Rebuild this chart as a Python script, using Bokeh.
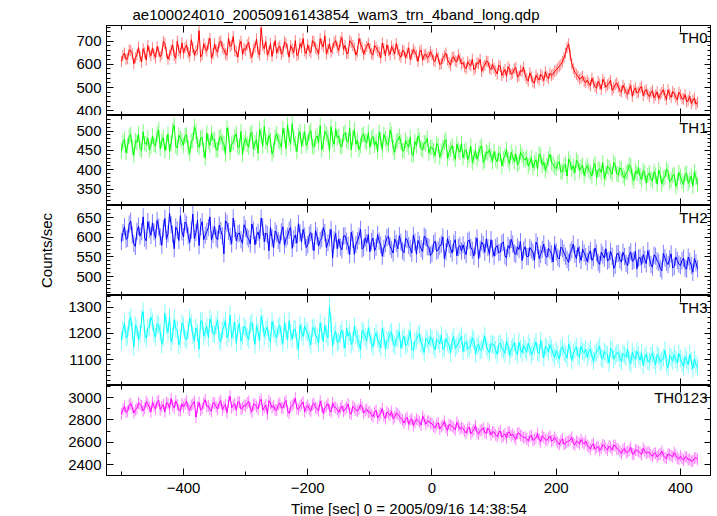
import numpy as np
from bokeh.plotting import figure
from bokeh.layouts import column
from bokeh.models import Range1d, LinearAxis, Label, SingleIntervalTicker, CustomJSTickFormatter
from bokeh.embed import file_html
from bokeh.resources import INLINE

# ---------------- data (rates, counts/sec) ----------------
# "a" samples at -500, -495, ... ; "b" samples half a step later (-497.5, -492.5, ...)
time_start = -500
time_step = 5

th0_a = [612, 648, 625, 659, 603, 641, 634, 667, 618, 652,
         671, 629, 655, 644, 690, 622, 661, 638, 700, 647,
         648, 683, 635, 672, 658, 745, 641, 669, 690, 627,
         688, 652, 701, 664, 639, 676, 720, 655, 683, 642,
         661, 695, 630, 674, 652, 758, 667, 640, 689, 671,
         648, 679, 655, 690, 631, 666, 702, 644, 672, 658,
         684, 650, 697, 662, 710, 675, 645, 689, 668, 702,
         660, 715, 681, 648, 694, 670, 656, 688, 642, 677,
         668, 640, 673, 651, 692, 636, 659, 678, 645, 662,
         630, 657, 648, 621, 665, 639, 652, 618, 644, 633,
         641, 612, 628, 603, 637, 619, 596, 632, 610, 624,
         608, 581, 599, 622, 585, 603, 570, 596, 612, 578,
         583, 559, 591, 566, 548, 579, 562, 587, 551, 569,
         552, 528, 546, 519, 541, 557, 530, 548, 562, 558,
         575, 592, 611, 648, 688, 603, 566, 548, 541, 528,
         532, 508, 521, 497, 515, 536, 502, 519, 488, 512,
         503, 482, 496, 471, 509, 488, 477, 498, 465, 491,
         461, 487, 468, 452, 479, 466, 490, 458, 474, 447,
         469, 451, 438, 462, 445, 428]
th0_b = [639, 621, 662, 645, 628, 673, 610, 649, 681, 637,
         644, 676, 633, 698, 651, 640, 684, 626, 659, 692,
         671, 650, 706, 639, 664, 632, 688, 657, 712, 645,
         661, 694, 673, 645, 712, 683, 658, 631, 699, 668,
         684, 647, 665, 709, 640, 681, 698, 656, 634, 702,
         671, 643, 697, 665, 680, 650, 638, 689, 711, 646,
         659, 701, 671, 644, 688, 723, 664, 652, 695, 673,
         698, 664, 647, 702, 681, 640, 711, 674, 663, 691,
         647, 681, 659, 628, 668, 684, 642, 662, 690, 641,
         661, 627, 671, 642, 653, 612, 662, 640, 628, 655,
         618, 646, 599, 625, 648, 607, 629, 615, 640, 601,
         589, 611, 594, 576, 607, 621, 588, 614, 584, 599,
         571, 596, 552, 578, 590, 557, 581, 545, 574, 588,
         539, 563, 525, 554, 532, 549, 568, 539, 552, 570,
         584, 600, 628, 672, 640, 582, 557, 536, 549, 521,
         519, 540, 505, 527, 492, 522, 511, 531, 499, 520,
         487, 510, 479, 494, 462, 499, 481, 505, 484, 472,
         478, 455, 482, 470, 491, 449, 471, 483, 459, 480,
         452, 470, 446, 431, 455, 437]

th1_a = [448, 479, 462, 491, 437, 470, 455, 498, 466, 452,
         487, 461, 503, 474, 449, 492, 468, 515, 456, 481,
         463, 490, 442, 476, 499, 458, 483, 431, 472, 494,
         478, 452, 486, 467, 508, 445, 471, 493, 460, 439,
         481, 458, 497, 469, 443, 488, 512, 463, 476, 451,
         493, 470, 506, 455, 482, 519, 467, 489, 461, 498,
         472, 501, 458, 487, 514, 466, 492, 448, 479, 505,
         488, 459, 496, 471, 451, 503, 477, 463, 492, 469,
         458, 486, 473, 497, 452, 480, 464, 491, 445, 476,
         471, 449, 466, 484, 438, 462, 477, 451, 469, 443,
         458, 436, 462, 447, 471, 429, 453, 441, 466, 445,
         431, 452, 437, 418, 449, 441, 462, 425, 443, 436,
         447, 421, 439, 428, 452, 416, 434, 441, 419, 437,
         425, 409, 431, 418, 402, 436, 421, 411, 440, 415,
         403, 421, 396, 414, 428, 401, 392, 419, 407, 385,
         411, 394, 408, 379, 402, 418, 391, 405, 388, 413,
         387, 401, 378, 396, 409, 372, 390, 383, 398, 366,
         392, 371, 386, 399, 364, 381, 395, 374, 388, 369,
         382, 361, 391, 374, 358, 380]
th1_b = [471, 444, 486, 459, 475, 493, 450, 468, 482, 461,
         466, 492, 455, 483, 470, 447, 501, 462, 489, 474,
         488, 457, 474, 511, 465, 482, 449, 495, 463, 477,
         451, 483, 472, 440, 491, 466, 485, 457, 499, 470,
         466, 492, 453, 478, 504, 461, 473, 489, 441, 484,
         475, 458, 489, 516, 468, 481, 447, 498, 479, 463,
         495, 462, 481, 470, 452, 499, 484, 511, 466, 483,
         462, 491, 476, 508, 483, 466, 452, 489, 474, 497,
         481, 463, 447, 479, 491, 468, 502, 457, 473, 486,
         449, 476, 458, 440, 473, 488, 455, 470, 481, 457,
         449, 468, 432, 457, 478, 444, 462, 427, 451, 468,
         447, 426, 461, 433, 428, 456, 419, 447, 452, 421,
         428, 443, 410, 437, 426, 445, 421, 413, 446, 428,
         432, 418, 405, 426, 441, 411, 398, 428, 419, 407,
         417, 394, 409, 384, 418, 410, 425, 398, 412, 401,
         398, 384, 416, 400, 393, 377, 409, 396, 419, 390,
         405, 385, 392, 413, 381, 397, 406, 374, 392, 386,
         377, 395, 363, 388, 378, 402, 369, 385, 357, 393,
         371, 389, 365, 384, 395, 362]

th2_a = [589, 627, 598, 641, 584, 615, 603, 652, 591, 620,
         637, 598, 626, 580, 648, 609, 632, 571, 618, 655,
         601, 633, 587, 659, 612, 579, 640, 606, 625, 593,
         628, 594, 617, 558, 636, 602, 649, 591, 611, 585,
         622, 596, 634, 581, 613, 649, 589, 607, 625, 573,
         609, 584, 627, 596, 618, 572, 606, 635, 588, 603,
         581, 612, 566, 603, 592, 625, 574, 599, 547, 610,
         596, 568, 604, 579, 613, 557, 591, 620, 574, 586,
         563, 598, 575, 590, 552, 584, 603, 569, 596, 571,
         588, 561, 594, 572, 605, 557, 582, 564, 599, 575,
         559, 590, 568, 583, 546, 597, 571, 585, 553, 579,
         581, 556, 593, 567, 579, 545, 588, 562, 574, 594,
         552, 579, 563, 588, 548, 572, 583, 556, 569, 541,
         576, 551, 568, 542, 579, 557, 583, 549, 566, 537,
         563, 545, 571, 552, 536, 568, 557, 574, 541, 560,
         538, 566, 549, 560, 531, 555, 571, 543, 552, 529,
         559, 537, 551, 528, 563, 542, 520, 549, 556, 533,
         547, 524, 552, 536, 515, 548, 531, 558, 526, 541,
         528, 547, 519, 539, 511, 535]
th2_b = [612, 595, 634, 606, 577, 628, 614, 598, 640, 605,
         614, 643, 601, 622, 595, 661, 608, 626, 592, 614,
         639, 604, 618, 597, 644, 627, 594, 615, 652, 608,
         598, 631, 604, 642, 615, 583, 622, 609, 594, 632,
         601, 583, 618, 605, 596, 627, 611, 566, 598, 616,
         592, 614, 580, 603, 625, 597, 585, 611, 620, 574,
         606, 589, 617, 578, 597, 612, 586, 620, 593, 571,
         575, 603, 590, 556, 595, 582, 603, 570, 599, 607,
         589, 566, 607, 581, 572, 599, 577, 560, 585, 604,
         566, 597, 579, 560, 588, 592, 571, 603, 577, 554,
         584, 565, 577, 601, 563, 582, 560, 594, 574, 565,
         566, 590, 575, 552, 598, 570, 581, 596, 557, 571,
         574, 561, 585, 553, 579, 595, 560, 576, 589, 568,
         551, 574, 562, 588, 546, 569, 554, 572, 558, 581,
         549, 575, 560, 544, 562, 583, 546, 556, 570, 551,
         557, 541, 573, 536, 562, 547, 540, 564, 521, 558,
         543, 562, 534, 555, 539, 565, 547, 531, 544, 566,
         531, 555, 540, 521, 559, 537, 545, 522, 550, 532,
         541, 522, 550, 528, 546, 520]

th3_a = [1172, 1238, 1190, 1261, 1148, 1219, 1196, 1283, 1181, 1225,
         1244, 1186, 1230, 1159, 1277, 1204, 1168, 1252, 1213, 1179,
         1228, 1175, 1259, 1193, 1221, 1140, 1246, 1207, 1183, 1236,
         1197, 1251, 1168, 1226, 1184, 1270, 1209, 1162, 1238, 1191,
         1219, 1176, 1243, 1158, 1207, 1264, 1188, 1225, 1170, 1214,
         1183, 1231, 1162, 1209, 1248, 1178, 1216, 1139, 1205, 1227,
         1201, 1157, 1222, 1185, 1240, 1168, 1197, 1302, 1151, 1209,
         1169, 1213, 1144, 1190, 1158, 1226, 1181, 1137, 1203, 1172,
         1192, 1148, 1201, 1163, 1219, 1141, 1177, 1206, 1152, 1184,
         1143, 1189, 1161, 1210, 1135, 1176, 1199, 1150, 1182, 1158,
         1179, 1138, 1172, 1194, 1146, 1167, 1125, 1188, 1153, 1176,
         1131, 1168, 1145, 1183, 1122, 1159, 1140, 1190, 1136, 1162,
         1155, 1120, 1163, 1138, 1171, 1115, 1149, 1132, 1166, 1127,
         1141, 1162, 1118, 1150, 1129, 1173, 1108, 1144, 1157, 1123,
         1134, 1102, 1149, 1121, 1160, 1097, 1138, 1115, 1152, 1126,
         1109, 1141, 1095, 1128, 1152, 1103, 1124, 1087, 1136, 1116,
         1128, 1094, 1119, 1140, 1085, 1111, 1132, 1098, 1079, 1120,
         1092, 1125, 1081, 1113, 1098, 1136, 1070, 1107, 1119, 1088,
         1105, 1074, 1098, 1121, 1066, 1083]
th3_b = [1214, 1183, 1247, 1209, 1231, 1175, 1254, 1198, 1220, 1262,
         1199, 1236, 1207, 1185, 1229, 1263, 1191, 1218, 1156, 1240,
         1182, 1213, 1237, 1170, 1202, 1248, 1189, 1226, 1255, 1198,
         1230, 1177, 1212, 1249, 1201, 1183, 1242, 1219, 1170, 1227,
         1186, 1233, 1204, 1229, 1172, 1238, 1212, 1180, 1246, 1197,
         1222, 1190, 1241, 1176, 1203, 1215, 1169, 1232, 1188, 1210,
         1176, 1219, 1195, 1163, 1207, 1230, 1183, 1238, 1192, 1165,
         1198, 1177, 1219, 1205, 1170, 1195, 1161, 1212, 1186, 1221,
         1163, 1187, 1178, 1145, 1190, 1172, 1199, 1162, 1179, 1207,
         1176, 1154, 1182, 1139, 1170, 1191, 1163, 1127, 1175, 1187,
         1152, 1177, 1160, 1139, 1180, 1155, 1171, 1143, 1164, 1190,
         1163, 1141, 1157, 1174, 1148, 1135, 1166, 1151, 1126, 1158,
         1137, 1158, 1145, 1124, 1152, 1140, 1165, 1119, 1141, 1154,
         1128, 1147, 1132, 1168, 1125, 1139, 1151, 1129, 1143, 1109,
         1119, 1141, 1130, 1106, 1137, 1125, 1149, 1112, 1133, 1140,
         1130, 1115, 1122, 1139, 1107, 1131, 1118, 1143, 1102, 1125,
         1105, 1123, 1110, 1097, 1129, 1102, 1117, 1125, 1108, 1094,
         1114, 1099, 1120, 1091, 1108, 1085, 1116, 1095, 1102, 1124,
         1088, 1112, 1081, 1094, 1103, 1070]

th0123_a = [2852, 2921, 2878, 2946, 2863, 2905, 2937, 2881, 2962, 2914,
            2958, 2897, 2974, 2919, 2871, 2946, 2990, 2908, 2935, 2882,
            2915, 2968, 2886, 2942, 2825, 2957, 2903, 2981, 2924, 2877,
            2949, 2896, 2972, 2918, 2864, 3012, 2931, 2885, 2958, 2907,
            2922, 2966, 2871, 2940, 2898, 2985, 2913, 2850, 2947, 2929,
            2887, 2951, 2906, 2972, 2859, 2928, 2995, 2894, 2940, 2873,
            2931, 2879, 2947, 2902, 2968, 2856, 2921, 2889, 2952, 2910,
            2868, 2925, 2894, 2943, 2852, 2909, 2878, 2936, 2861, 2897,
            2874, 2829, 2886, 2841, 2903, 2812, 2858, 2877, 2826, 2851,
            2815, 2772, 2823, 2796, 2749, 2808, 2781, 2834, 2762, 2789,
            2768, 2729, 2774, 2741, 2788, 2706, 2753, 2732, 2779, 2718,
            2721, 2684, 2738, 2697, 2751, 2675, 2712, 2689, 2726, 2668,
            2691, 2652, 2703, 2661, 2638, 2689, 2674, 2627, 2684, 2655,
            2648, 2612, 2661, 2627, 2679, 2604, 2643, 2618, 2656, 2621,
            2619, 2581, 2632, 2594, 2611, 2647, 2578, 2603, 2625, 2586,
            2573, 2541, 2588, 2556, 2527, 2579, 2548, 2567, 2533, 2571,
            2538, 2501, 2545, 2517, 2556, 2494, 2529, 2510, 2547, 2503,
            2512, 2476, 2503, 2488, 2521, 2465, 2497, 2481, 2509, 2462,
            2478, 2441, 2469, 2452, 2436, 2463]
th0123_b = [2894, 2867, 2933, 2910, 2889, 2951, 2926, 2903, 2940, 2872,
            2921, 2962, 2890, 2938, 2956, 2902, 2929, 2968, 2889, 2944,
            2943, 2901, 2929, 2965, 2912, 2887, 2949, 2920, 2896, 2955,
            2917, 2953, 2889, 2937, 2960, 2908, 2944, 2962, 2897, 2931,
            2951, 2903, 2937, 2919, 2962, 2887, 2934, 2971, 2911, 2889,
            2934, 2908, 2953, 2881, 2917, 2946, 2902, 2923, 2960, 2911,
            2897, 2936, 2912, 2880, 2923, 2909, 2944, 2871, 2915, 2893,
            2903, 2876, 2912, 2865, 2921, 2888, 2897, 2913, 2884, 2868,
            2846, 2868, 2817, 2860, 2835, 2871, 2840, 2809, 2862, 2832,
            2798, 2807, 2761, 2812, 2779, 2795, 2754, 2803, 2788, 2771,
            2746, 2762, 2719, 2755, 2733, 2760, 2742, 2711, 2750, 2736,
            2702, 2719, 2676, 2713, 2688, 2704, 2730, 2681, 2708, 2695,
            2667, 2684, 2646, 2676, 2693, 2657, 2648, 2679, 2663, 2641,
            2631, 2652, 2619, 2640, 2628, 2660, 2625, 2638, 2611, 2646,
            2598, 2614, 2583, 2606, 2622, 2591, 2610, 2587, 2599, 2612,
            2558, 2575, 2539, 2562, 2548, 2570, 2531, 2556, 2574, 2545,
            2521, 2536, 2509, 2528, 2498, 2533, 2519, 2491, 2524, 2512,
            2489, 2502, 2470, 2495, 2483, 2456, 2490, 2472, 2486, 2451,
            2457, 2470, 2444, 2431, 2459, 2448]

# typical 1-sigma error bar of each band (counts/sec)
band_errors = [24, 20, 22, 34, 52]

band_names = ["TH0", "TH1", "TH2", "TH3", "TH0123"]
band_a = [th0_a, th1_a, th2_a, th3_a, th0123_a]
band_b = [th0_b, th1_b, th2_b, th3_b, th0123_b]

x_lim = (-524, 450)
y_lims = [(380, 767), (308, 540), (452, 681), (1002, 1344), (2305, 3107)]
y_major = [100, 50, 50, 100, 200]
y_minor = [5, 5, 5, 5, 2]
colors = ["#ff0000", "#00ff00", "#0000ff", "#00ffff", "#ff00ff"]

title_text = "ae100024010_20050916143854_wam3_trn_4band_long.qdp"
x_label = "Time [sec] 0 = 2005/09/16 14:38:54"
y_label = "Counts/sec"

FONT = "Liberation Sans"
FS = "15px"
BLANK = CustomJSTickFormatter(code="return ''")


def style_axis(ax, show_labels):
    ax.major_tick_in = 7
    ax.major_tick_out = 0
    ax.minor_tick_in = 4
    ax.minor_tick_out = 0
    ax.axis_line_color = "black"
    ax.major_tick_line_color = "black"
    ax.minor_tick_line_color = "black"
    ax.major_label_text_font = FONT
    ax.major_label_text_color = "black"
    ax.axis_label_text_font = FONT
    ax.axis_label_text_font_style = "normal"
    ax.axis_label_text_font_size = FS
    ax.axis_label_text_color = "black"
    if show_labels:
        ax.major_label_text_font_size = FS
    else:
        ax.formatter = BLANK
        ax.major_label_text_font_size = "0px"
        ax.major_label_standoff = 0


figs = []
n = len(band_names)
for i in range(n):
    a = np.array(band_a[i], dtype=float)
    b = np.array(band_b[i], dtype=float)
    ta = time_start + time_step * np.arange(len(a))
    tb = ta + time_step / 2.0
    t = np.column_stack([ta, tb]).ravel()
    vals = np.column_stack([a, b]).ravel()

    first = i == 0
    last = i == n - 1
    p = figure(frame_width=605, frame_height=90,
               x_range=Range1d(*x_lim), y_range=Range1d(*y_lims[i]),
               output_backend="svg", toolbar_location=None,
               min_border_left=106, min_border_right=0,
               min_border_top=0, min_border_bottom=0,
               title=title_text if first else None)
    p.xgrid.visible = False
    p.ygrid.visible = False
    p.outline_line_color = "black"
    p.background_fill_color = "white"
    p.border_fill_color = "white"

    bottom_ax = p.xaxis[0]
    left_ax = p.yaxis[0]
    bottom_ax.ticker = SingleIntervalTicker(interval=200, num_minor_ticks=2)
    left_ax.ticker = SingleIntervalTicker(interval=y_major[i], num_minor_ticks=y_minor[i])
    style_axis(bottom_ax, last)
    bottom_ax.major_label_standoff = 7 if last else 0
    style_axis(left_ax, True)
    left_ax.major_label_standoff = 5

    top_ax = LinearAxis(ticker=SingleIntervalTicker(interval=200, num_minor_ticks=2))
    style_axis(top_ax, False)
    p.add_layout(top_ax, "above")
    right_ax = LinearAxis(ticker=SingleIntervalTicker(interval=y_major[i], num_minor_ticks=y_minor[i]))
    style_axis(right_ax, False)
    p.add_layout(right_ax, "right")

    if last:
        bottom_ax.axis_label = x_label
        bottom_ax.axis_label_standoff = 4
    if i == 2:
        left_ax.axis_label = y_label
        left_ax.axis_label_standoff = 18

    if first:
        p.title.text_font = FONT
        p.title.text_font_size = FS
        p.title.text_font_style = "normal"
        p.title.text_color = "black"
        p.title.offset = 26
        p.title.standoff = 6

    err = band_errors[i]
    p.segment(x0=t, y0=vals - err, x1=t, y1=vals + err,
              line_color=colors[i], line_width=1, line_alpha=0.5)
    p.line(t, vals, line_color=colors[i], line_width=1)

    lab = Label(x=x_lim[1], y=y_lims[i][1], x_offset=-4, y_offset=-3,
                text=band_names[i], text_align="right", text_baseline="top",
                text_font=FONT, text_font_size=FS, text_color="black")
    p.add_layout(lab)
    figs.append(p)

layout = column(*figs, spacing=0)
open("out.html", "w").write(file_html(layout, INLINE))
